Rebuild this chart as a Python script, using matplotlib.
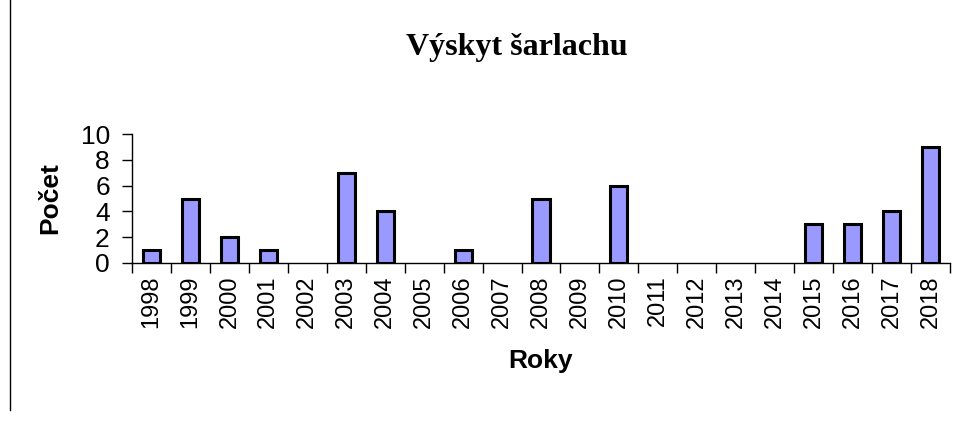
import numpy as np
import matplotlib.pyplot as plt
from matplotlib.lines import Line2D

roky = ['1998', '1999', '2000', '2001', '2002', '2003', '2004', '2005', '2006', '2007',
        '2008', '2009', '2010', '2011', '2012', '2013', '2014', '2015', '2016', '2017', '2018']
pocet = [1, 5, 2, 1, 0, 7, 4, 0, 1, 0, 5, 0, 6, 0, 0, 0, 0, 3, 3, 4, 9]

plt.rcParams['font.family'] = ['Liberation Sans', 'DejaVu Sans']

fig = plt.figure(figsize=(9.75, 4.23), dpi=100)
ax = fig.add_axes([132/975, 1-263/423, (950-132)/975, (263-134)/423])

x = np.arange(len(roky))
# zero-height bars are not drawn with an outline in the original
lw = [2.2 if v > 0 else 0 for v in pocet]
ax.bar(x, pocet, width=0.44, color='#9999FF', edgecolor='black', linewidth=lw, zorder=3)

ax.set_xlim(-0.5, len(roky)-0.5)
ax.set_ylim(0, 10)
ax.set_yticks([0, 2, 4, 6, 8, 10])
ax.set_xticks(x)
ax.set_xticklabels(roky, rotation=90, fontsize=17)
ax.set_xticks(np.arange(-0.5, len(roky), 1), minor=True)
ax.tick_params(axis='x', which='major', length=0, pad=9)
ax.tick_params(axis='x', which='minor', length=7, width=1, direction='out')
ax.tick_params(axis='y', labelsize=19, length=7, width=1, pad=9)

for s in ['top', 'right']:
    ax.spines[s].set_visible(False)
for s in ['left', 'bottom']:
    ax.spines[s].set_linewidth(1)

ax.set_xlabel('Roky', fontsize=19, fontweight='bold', labelpad=15)
ax.set_ylabel('Počet', fontsize=19, fontweight='bold', labelpad=13)

fig.text(517/975, 1-48/423, 'Výskyt šarlachu', family='Liberation Serif', fontweight='bold',
         fontsize=23, ha='center', va='center')

fig.add_artist(Line2D([10/975, 10/975], [1, 1-410/423], color='black', linewidth=1))

fig.savefig('out.png', dpi=100)
